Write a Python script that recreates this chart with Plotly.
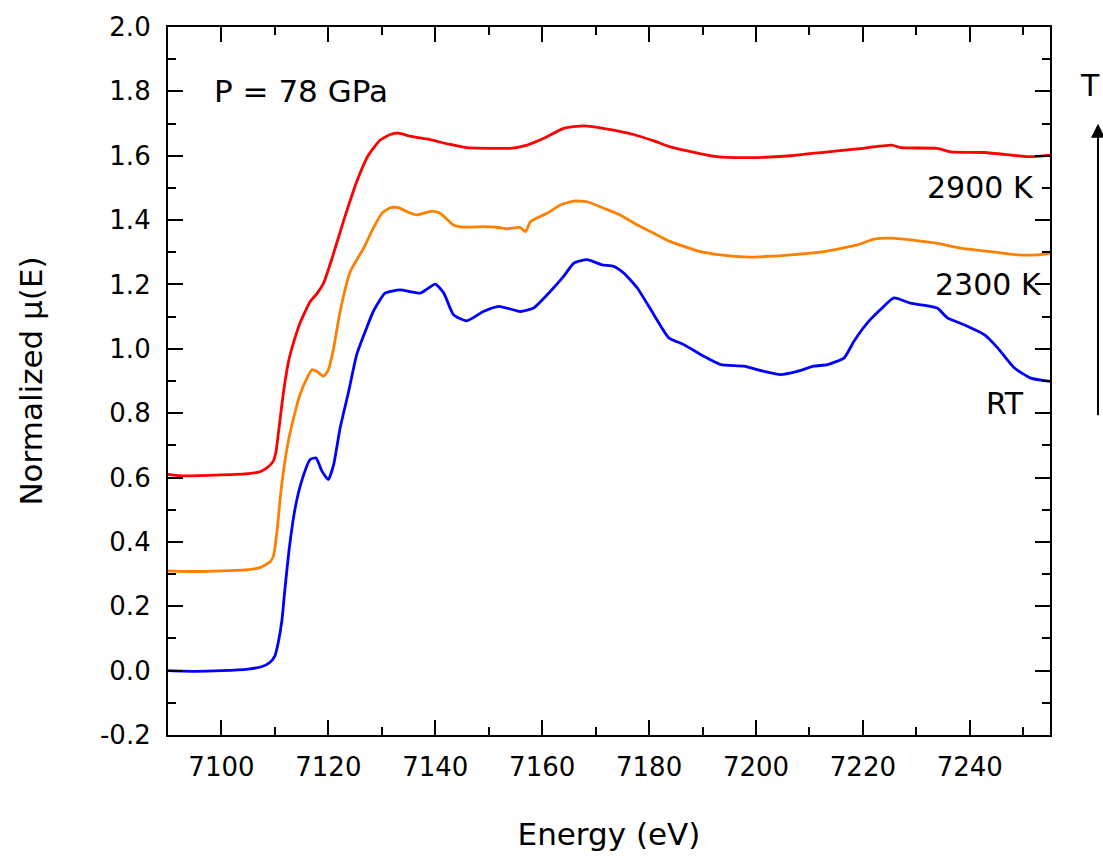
import plotly.graph_objects as go

# Fe K-edge XANES at 78 GPa, normalized absorption vs photon energy
E_rt = [7090, 7095, 7100, 7105, 7107.5, 7109.1, 7110.0, 7110.6, 7111.3, 7111.9, 7112.7, 7113.8,
        7115.0, 7116.6, 7117.7, 7118.8, 7120.0, 7121.0, 7122.2, 7123.8, 7125.3, 7126.9, 7128.4,
        7130.6, 7133.4, 7137.2, 7140.0, 7141.6, 7143.4, 7145.9, 7149.0, 7151.9, 7155.9, 7158.4,
        7161.5, 7164.0, 7165.9, 7168.4, 7171.2, 7173.4, 7175.3, 7177.8, 7180.9, 7183.7, 7186.5,
        7190.2, 7193.4, 7197.7, 7201.5, 7204.6, 7207.7, 7210.8, 7213.4, 7216.5, 7218.3, 7220.8,
        7223.3, 7225.8, 7228.9, 7233.9, 7235.8, 7238.9, 7242.7, 7245.2, 7248.3, 7251.4, 7255]
mu_rt = [0.000, -0.002, 0.000, 0.005, 0.012, 0.026, 0.046, 0.085, 0.155, 0.258, 0.382, 0.506,
         0.589, 0.656, 0.661, 0.620, 0.594, 0.641, 0.754, 0.868, 0.982, 1.054, 1.116,
         1.173, 1.183, 1.173, 1.201, 1.173, 1.106, 1.087, 1.116, 1.132, 1.116, 1.127,
         1.178, 1.225, 1.266, 1.277, 1.261, 1.256, 1.235, 1.189, 1.106, 1.034, 1.013,
         0.977, 0.951, 0.946, 0.930, 0.920, 0.930, 0.946, 0.951, 0.972, 1.023, 1.080,
         1.122, 1.158, 1.142, 1.127, 1.096, 1.075, 1.044, 1.003, 0.941, 0.909, 0.899]

E_2300 = [7090, 7095, 7100, 7105, 7107.2, 7109.1, 7109.7, 7110.4, 7111.0, 7111.6, 7112.5, 7113.5,
          7114.7, 7116.0, 7116.9, 7117.8, 7119.1, 7120.0, 7121.0, 7122.2, 7124.1, 7126.6, 7128.4,
          7130.0, 7131.6, 7133.1, 7134.7, 7136.6, 7139.4, 7140.9, 7143.4, 7145.3, 7149.0, 7151.9,
          7153.4, 7155.9, 7156.9, 7157.8, 7160.9, 7163.4, 7165.9, 7168.4, 7171.5, 7174.6, 7177.8,
          7180.9, 7184.0, 7189.6, 7193.4, 7199.0, 7206.5, 7212.7, 7219.0, 7222.1, 7225.5, 7233.9,
          7238.3, 7243.9, 7248.9, 7252.7, 7255]
mu_2300 = [0.310, 0.308, 0.310, 0.314, 0.320, 0.338, 0.355, 0.434, 0.537, 0.620, 0.713, 0.785,
           0.858, 0.909, 0.935, 0.930, 0.915, 0.935, 1.003, 1.116, 1.240, 1.313, 1.375,
           1.421, 1.439, 1.439, 1.426, 1.416, 1.428, 1.421, 1.385, 1.378, 1.380, 1.377,
           1.373, 1.377, 1.364, 1.395, 1.421, 1.447, 1.459, 1.457, 1.437, 1.416, 1.385,
           1.359, 1.333, 1.302, 1.292, 1.285, 1.292, 1.302, 1.323, 1.341, 1.344, 1.328,
           1.313, 1.302, 1.292, 1.292, 1.297]

E_2900 = [7090, 7093, 7100, 7105, 7107.2, 7108.5, 7109.7, 7110.2, 7110.7, 7111.3, 7111.9, 7112.6,
          7113.5, 7114.7, 7116.6, 7117.8, 7119.1, 7120.7, 7122.8, 7125.3, 7127.5, 7129.7, 7131.6,
          7133.1, 7135.3, 7138.4, 7142.8, 7145.9, 7150.3, 7154.0, 7157.2, 7160.3, 7164.0, 7167.8,
          7172.2, 7177.1, 7180.9, 7184.3, 7192.7, 7199.0, 7206.5, 7213.4, 7219.0, 7225.4, 7227.1,
          7233.9, 7236.4, 7242.7, 7248.9, 7251.4, 7255]
mu_2900 = [0.610, 0.605, 0.608, 0.612, 0.618, 0.630, 0.651, 0.680, 0.744, 0.827, 0.899, 0.965,
           1.020, 1.080, 1.147, 1.170, 1.204, 1.282, 1.395, 1.519, 1.602, 1.649, 1.666,
           1.670, 1.661, 1.652, 1.635, 1.625, 1.623, 1.623, 1.633, 1.654, 1.685, 1.693,
           1.683, 1.666, 1.646, 1.626, 1.597, 1.594, 1.600, 1.612, 1.621, 1.633, 1.625,
           1.623, 1.612, 1.610, 1.600, 1.597, 1.602]

series = [
    ("RT", E_rt, mu_rt, "#0000ff"),
    ("2300 K", E_2300, mu_2300, "#ff8000"),
    ("2900 K", E_2900, mu_2900, "#ff0000"),
]

y_ticks = [-0.2, 0.0, 0.2, 0.4, 0.6, 0.8, 1.0, 1.2, 1.4, 1.6, 1.8, 2.0]
y_ticklabels = ["-0.2", "0.0", "0.2", "0.4", "0.6", "0.8", "1.0", "1.2", "1.4", "1.6", "1.8", "2.0"]

FONT = "DejaVu Sans"

fig = go.Figure()
for name, xs, ys, color in series:
    fig.add_trace(go.Scatter(
        x=xs, y=ys, mode="lines", name=name,
        line=dict(color=color, width=2.8, shape="spline", smoothing=0.5),
        showlegend=False,
    ))

axis_common = dict(
    showline=True, linecolor="black", linewidth=2.2, mirror="allticks",
    ticks="inside", ticklen=15, tickwidth=2, tickcolor="black",
    showgrid=False, zeroline=False,
    tickfont=dict(family=FONT, size=26, color="black"),
)

fig.update_xaxes(
    range=[7090, 7255], dtick=20, tick0=7100,
    minor=dict(ticks="inside", ticklen=8, tickwidth=2, tickcolor="black", dtick=10, showgrid=False),
    title=dict(text="Energy (eV)", font=dict(family=FONT, size=31, color="black"), standoff=42),
    ticklabelstandoff=8,
    **axis_common,
)
fig.update_yaxes(
    range=[-0.2, 2.0], tickmode="array", tickvals=y_ticks, ticktext=y_ticklabels,
    minor=dict(ticks="inside", ticklen=8, tickwidth=2, tickcolor="black", dtick=0.1, showgrid=False),
    title=dict(text="Normalized μ(E)", font=dict(family=FONT, size=31, color="black"), standoff=48),
    ticklabelstandoff=10,
    **axis_common,
)

label_font = dict(family=FONT, size=30, color="black")
annotations = [
    dict(x=7098.2, y=1.80, xref="x", yref="y", text="P = 78 GPa", showarrow=False,
         xanchor="left", yanchor="middle", font=dict(family=FONT, size=31, color="black")),
    dict(x=7252.4, y=1.50, xref="x", yref="y", text="2900 K", showarrow=False,
         xanchor="right", yanchor="middle", font=label_font),
    dict(x=7253.9, y=1.20, xref="x", yref="y", text="2300 K", showarrow=False,
         xanchor="right", yanchor="middle", font=label_font),
    dict(x=7250.5, y=0.83, xref="x", yref="y", text="RT", showarrow=False,
         xanchor="right", yanchor="middle", font=label_font),
    dict(x=1.0585, y=0.918, xref="paper", yref="paper", text="T", showarrow=False,
         xanchor="right", yanchor="middle", font=label_font),
    # temperature arrow
    dict(x=1.0544, y=0.8634, xref="paper", yref="paper", text="", showarrow=True,
         ax=0, ay=293, axref="pixel", ayref="pixel",
         arrowhead=2, arrowsize=1.4, arrowwidth=2, arrowcolor="black"),
]

fig.update_layout(
    width=1103, height=859,
    margin=dict(l=168, r=53, t=25, b=124),
    paper_bgcolor="white", plot_bgcolor="white",
    font=dict(family=FONT, color="black"),
    annotations=annotations,
)

fig.write_html("out.html")
